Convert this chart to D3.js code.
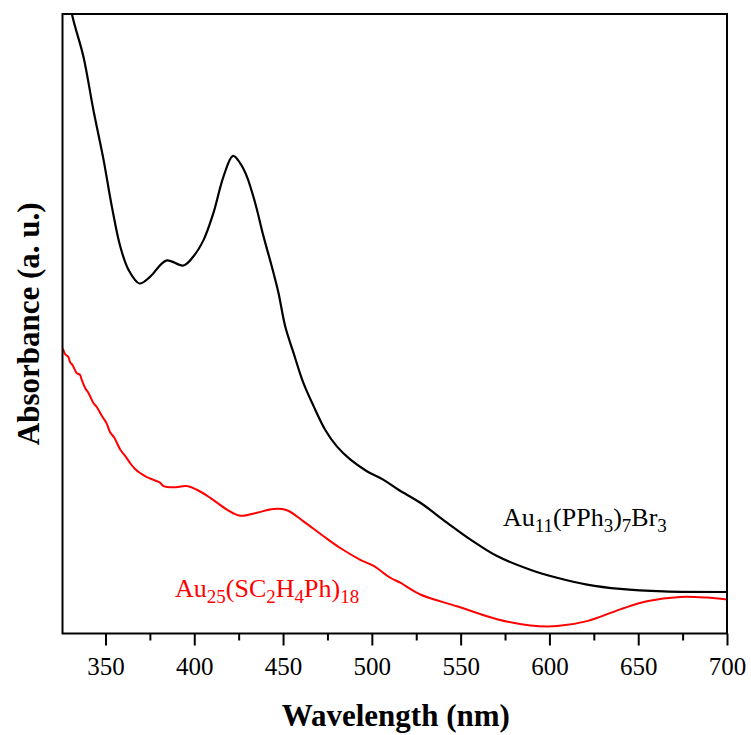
<!DOCTYPE html>
<html>
<head>
<meta charset="utf-8">
<script src="https://cdn.jsdelivr.net/npm/d3@7"></script>
<style>
  html, body { margin: 0; padding: 0; background: #fff; }
  svg { display: block; }
  text { font-family: "Liberation Serif", "Times New Roman", serif; }
</style>
</head>
<body>
<svg id="chart" width="751" height="735"></svg>
<script>
// ---- data ----
const au11Wavelength = [326, 331.1, 337.6, 343.2, 348.9, 353.6, 358.3, 363.0, 369.2, 375.2, 384.2, 393.9, 399.6, 405.2, 410.8, 416.5, 421.8, 425.9, 429.6, 434.3, 439.0, 443.7, 447.4, 451.2, 455.9, 461.5, 467.2, 473.7, 480.3, 487.8, 497.2, 506.6, 515.0, 527.3, 542.3, 555.4, 570.5, 589.2, 604.3, 621.2, 639.9, 664.3, 700];
const au11Absorbance = [1.09, 1.0, 0.931, 0.845, 0.765, 0.689, 0.625, 0.587, 0.565, 0.576, 0.602, 0.594, 0.609, 0.635, 0.679, 0.738, 0.771, 0.759, 0.738, 0.695, 0.641, 0.592, 0.550, 0.496, 0.453, 0.404, 0.367, 0.329, 0.302, 0.281, 0.262, 0.248, 0.232, 0.211, 0.179, 0.152, 0.125, 0.103, 0.090, 0.079, 0.072, 0.068, 0.067];

const au25Wavelength = [326.0, 327.5, 329.0, 330.1, 331.5, 333.9, 335.5, 336.8, 338.6, 340.5, 343.2, 345.0, 348.0, 350.5, 352.6, 355.0, 358.3, 361.0, 363.9, 366.5, 369.5, 373.0, 377.0, 380.5, 382.7, 388.3, 395.8, 401.5, 409.0, 418.4, 425.9, 435.3, 444.6, 452.2, 461.5, 472.8, 482.2, 493.5, 501.0, 510.4, 516.0, 527.3, 547.9, 570.5, 589.2, 604.3, 621.2, 639.9, 654.9, 673.7, 688.7, 700];
const au25Absorbance = [0.460, 0.450, 0.447, 0.438, 0.433, 0.420, 0.418, 0.408, 0.396, 0.388, 0.372, 0.366, 0.351, 0.340, 0.325, 0.316, 0.297, 0.287, 0.275, 0.266, 0.259, 0.253, 0.248, 0.244, 0.238, 0.236, 0.238, 0.232, 0.219, 0.200, 0.190, 0.195, 0.201, 0.199, 0.181, 0.157, 0.138, 0.119, 0.109, 0.090, 0.082, 0.063, 0.044, 0.023, 0.013, 0.012, 0.020, 0.039, 0.052, 0.059, 0.058, 0.055];

const xTicksMajor = [350, 400, 450, 500, 550, 600, 650, 700];
const xTicksMinor = [375, 425, 475, 525, 575, 625, 675];
const xDomain = [325.8, 700];
const yDomain = [0, 1];

const xTitle = "Wavelength (nm)";
const yTitle = "Absorbance (a. u.)";

// ---- layout ----
const svg = d3.select("#chart");
const L = 62.5, R = 727, T = 14, B = 633.5;

const x = d3.scaleLinear().domain(xDomain).range([L, R]);
const y = d3.scaleLinear().domain(yDomain).range([B, T]);

svg.append("defs").append("clipPath").attr("id", "clip")
  .append("rect").attr("x", L).attr("y", T).attr("width", R - L).attr("height", B - T);

const line = d3.line()
  .x(d => x(d[0])).y(d => y(d[1]))
  .curve(d3.curveCatmullRom.alpha(0.5));

const plot = svg.append("g").attr("clip-path", "url(#clip)");

plot.append("path")
  .datum(d3.zip(au25Wavelength, au25Absorbance))
  .attr("d", line)
  .attr("fill", "none").attr("stroke", "#ff0000").attr("stroke-width", 2);

plot.append("path")
  .datum(d3.zip(au11Wavelength, au11Absorbance))
  .attr("d", line)
  .attr("fill", "none").attr("stroke", "#000").attr("stroke-width", 2.2);

// frame
svg.append("rect").attr("x", L).attr("y", T).attr("width", R - L).attr("height", B - T)
  .attr("fill", "none").attr("stroke", "#000").attr("stroke-width", 2);

// x axis (major)
const axMaj = d3.axisBottom(x).tickValues(xTicksMajor).tickSize(12).tickSizeOuter(0).tickPadding(6).tickFormat(d3.format("d"));
const gMaj = svg.append("g").attr("transform", `translate(0,${B})`).call(axMaj);
gMaj.select(".domain").remove();
gMaj.selectAll(".tick line").attr("stroke", "#000").attr("stroke-width", 2);
gMaj.selectAll(".tick text")
  .attr("font-family", "Liberation Serif, serif").attr("font-size", 25).attr("fill", "#000")
  .attr("dy", null).attr("y", 41.5);

const axMin = d3.axisBottom(x).tickValues(xTicksMinor).tickSize(7).tickSizeOuter(0).tickFormat("");
const gMin = svg.append("g").attr("transform", `translate(0,${B})`).call(axMin);
gMin.select(".domain").remove();
gMin.selectAll(".tick line").attr("stroke", "#000").attr("stroke-width", 2);

// axis titles
svg.append("text").attr("x", (L + R) / 2 + 1).attr("y", 726)
  .attr("text-anchor", "middle").attr("font-size", 31).attr("font-weight", "bold").text(xTitle);

svg.append("text").attr("transform", `translate(39,${(T + B) / 2}) rotate(-90)`)
  .attr("text-anchor", "middle").attr("font-size", 31).attr("font-weight", "bold").text(yTitle);

// series labels with subscripts
function formula(parts, xPos, yPos, color) {
  const t = svg.append("text").attr("x", xPos).attr("y", yPos).attr("fill", color).attr("font-size", 26);
  let shifted = false;
  parts.forEach(p => {
    const ts = t.append("tspan").text(p.s);
    if (p.sub) {
      ts.attr("font-size", 19);
      if (!shifted) { ts.attr("dy", 6); shifted = true; }
    } else if (shifted) {
      ts.attr("dy", -6); shifted = false;
    }
  });
}
formula([{s:"Au"},{s:"11",sub:1},{s:"(PPh"},{s:"3",sub:1},{s:")"},{s:"7",sub:1},{s:"Br"},{s:"3",sub:1}], 503, 526, "#000");
formula([{s:"Au"},{s:"25",sub:1},{s:"(SC"},{s:"2",sub:1},{s:"H"},{s:"4",sub:1},{s:"Ph)"},{s:"18",sub:1}], 175, 597, "#ff0000");
</script>
</body>
</html>
